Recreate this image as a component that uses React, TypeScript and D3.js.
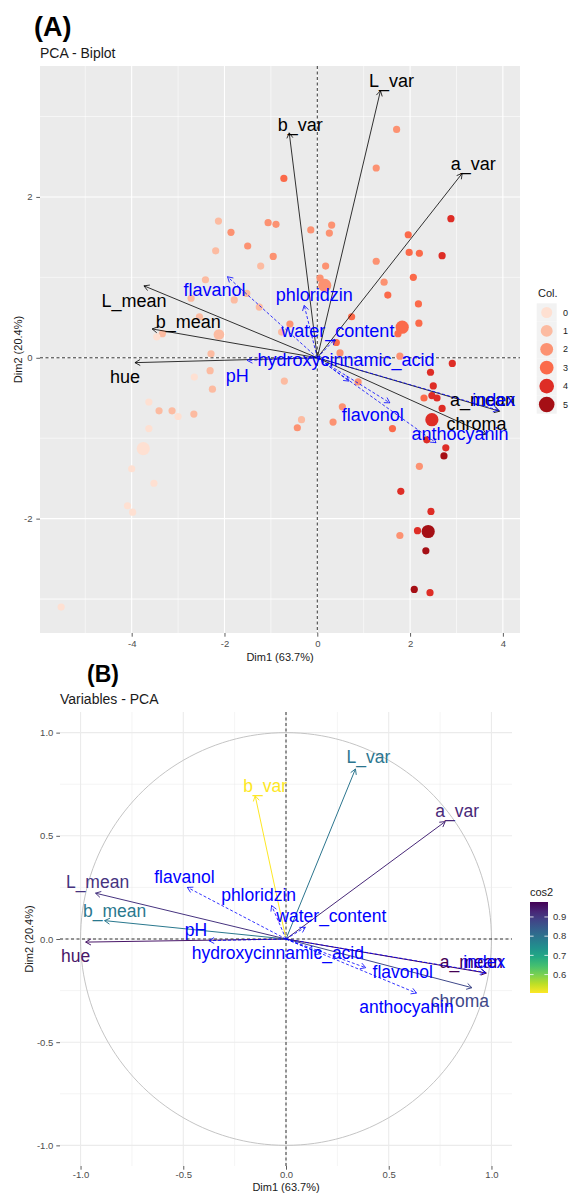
import { useEffect, useRef } from 'react'
import * as d3 from 'd3'

const FONT = '"Liberation Sans", Arial, Helvetica, sans-serif'

// active colour variables, coordinates on the correlation circle
const activeVars = ['L_var', 'b_var', 'a_var', 'L_mean', 'b_mean', 'hue', 'a_mean', 'chroma']
const activeDim1 = [0.338, -0.15, 0.775, -0.927, -0.883, -0.975, 0.975, 0.905]
const activeDim2 = [0.824, 0.694, 0.569, 0.222, 0.089, -0.015, -0.165, -0.236]

// supplementary variables
const suppVars = ['flavanol', 'phloridzin', 'water_content', 'hydroxycinnamic_acid', 'pH', 'flavonol', 'anthocyanin', 'index']
const suppDim1 = [-0.48, -0.07, 0.094, 0.17, -0.375, 0.388, 0.635, 0.97]
const suppDim2 = [0.25, 0.162, 0.057, -0.072, -0.008, -0.139, -0.262, -0.162]

// individuals (scores), their colour class and how many samples sit on the point
const indDim1 = [
	-0.72, -2.13, -1.06, -0.89, -1.86, -1.5, -2.19, -0.95, -1.22, -2.41, -2.72, -1.79, -1.52, -1.25, -2.54, -2.12,
	-0.14, 0.31, 0.26, 0.18, 1.27, 1.44, 1.52, 0.06, 0.16, 0.74, -0.59, -0.77, 0.41, 0.49, -2.29, -2.31, -2.65,
	-2.26, -0.71, 0.88, 1.71, 1.27, 2.88, 1.96, 1.98, 2.2, 2.69, 2.07, 2.18, 2.19, 1.83, 1.78, 2.91, 2.44, 2.5,
	2.47, 2.58, 2.3, 2.69, 0.54, -0.34, -0.43, 0.34, 1.62, 2.47, 2.36, 2.77, 2.73, 2.2, 1.8, 2.45, 2.39, 2.16,
	1.78, 2.34, 2.09, 2.43, -3.34, -3.46, -3.63, -3.41, -3.13, -3.0, -2.66, -3.63, -3.75, -4.0, -3.52, -4.09,
	-3.98, -5.52, 1.74,
]
const indDim2 = [
	2.23, 1.7, 1.68, 1.66, 1.56, 1.39, 1.33, 1.26, 1.14, 0.97, 0.74, 0.72, 0.8, 0.63, 0.51, 0.29, 1.59, 1.65,
	1.55, 1.14, 1.2, 0.94, 0.78, 0.99, 0.9, 0.51, 0.42, 0.32, 0.19, 0.06, 0.05, -0.16, -0.24, -0.39, -0.29, -0.3,
	2.84, 2.36, 1.73, 1.53, 1.31, 1.3, 1.27, 1.0, 0.67, 0.43, 0.38, 0.02, -0.07, -0.18, -0.35, -0.47, -0.5, -0.5,
	-0.63, -0.61, -0.77, -0.87, -0.8, -0.88, -0.77, -1.02, -1.12, -1.22, -1.35, -1.66, -1.91, -2.16, -2.15,
	-2.21, -2.4, -2.88, -2.92, 0.3, 0.26, -0.55, -0.66, -0.66, -0.73, -0.7, -0.88, -1.13, -1.38, -1.56, -1.84,
	-1.92, -3.1, 0.3,
]
const indCol = [
	3, 1, 2, 2, 2, 2, 1, 2, 1, 1, 1, 1, 1, 1, 1, 1, 2, 2, 2, 2, 2, 2, 3, 2, 2, 3, 2, 1, 3, 2, 1, 1, 0, 1, 1, 2,
	2, 2, 4, 3, 3, 3, 4, 3, 3, 3, 3, 2, 4, 4, 4, 4, 4, 3, 4, 2, 1, 2, 2, 3, 4, 4, 4, 5, 2, 4, 4, 5, 4, 2, 5, 5,
	4, 1, 0, 0, 1, 1, 0, 1, 0, 0, 0, 0, 0, 0, 0, 3,
]
const indCount = [
	1, 1, 1, 1, 1, 1, 1, 1, 1, 1, 1, 1, 1, 1, 1, 2, 1, 1, 1, 1, 1, 1, 1, 1, 3, 1, 1, 1, 1, 1, 1, 1, 1, 1, 1, 1,
	1, 1, 1, 1, 1, 1, 1, 1, 1, 1, 3, 1, 1, 1, 1, 1, 1, 1, 1, 1, 1, 1, 1, 1, 3, 1, 1, 1, 1, 1, 1, 3, 1, 1, 1, 1,
	1, 1, 1, 1, 1, 1, 1, 1, 1, 3, 1, 1, 1, 1, 1, 1,
]

const colClasses = [0, 1, 2, 3, 4, 5]
const colPalette = ['#FEE0D2', '#FCBBA1', '#FC9272', '#FB6A4A', '#DE2D26', '#A50F15']

const xTicksA = [-4, -2, 0, 2, 4]
const yTicksA = [-2, 0, 2]
const ticksB = [-1, -0.5, 0, 0.5, 1]
const cos2Ticks = [0.6, 0.7, 0.8, 0.9]

// how far the variable arrows are stretched in the biplot
const biplotScale = 4.03

// label nudges (px) from the arrow tip, as placed by the repel in the original
const nudgeA: Record<string, [number, number]> = {
	L_var: [11, -10], b_var: [11, -8], a_var: [11, -10], L_mean: [-10, 15], b_mean: [36, -7],
	hue: [-10, 14], a_mean: [-17, -12], chroma: [-10, -11], flavanol: [-13, 13], phloridzin: [10, -11],
	water_content: [3, -9], hydroxycinnamic_acid: [-3, -21], pH: [-10, 15], flavonol: [-17, 12],
	anthocyanin: [24, -9], index: [-5, -11],
}
const nudgeB: Record<string, [number, number]> = {
	L_var: [13, -12], b_var: [10, -10], a_var: [12, -11], L_mean: [2, -11], b_mean: [10, -10],
	hue: [-10, 14], a_mean: [-15, -11], chroma: [-12, 13], flavanol: [-3, -11], phloridzin: [-13, -11],
	water_content: [26, -11], hydroxycinnamic_acid: [-43, -1], pH: [-13, -11], flavonol: [37, 4],
	anthocyanin: [-10, 14], index: [-1, -11],
}

const drawArrow = (g: any, x1: number, y1: number, x2: number, y2: number, color: string, width: number, dash?: string) => {
	g.append('line')
		.attr('x1', x1).attr('y1', y1).attr('x2', x2).attr('y2', y2)
		.attr('stroke', color)
		.attr('stroke-width', width)
		.attr('stroke-dasharray', dash || null)
	const ang = Math.atan2(y2 - y1, x2 - x1)
	const len = 6
	const a = Math.PI / 6
	g.append('path')
		.attr('d', `M${x2 - len * Math.cos(ang - a)},${y2 - len * Math.sin(ang - a)}L${x2},${y2}L${x2 - len * Math.cos(ang + a)},${y2 - len * Math.sin(ang + a)}`)
		.attr('fill', 'none')
		.attr('stroke', color)
		.attr('stroke-width', width)
}

const minorBreaks = (major: number[], lo: number, hi: number) => {
	const step = major[1] - major[0]
	const out = major.map((t) => t - step / 2).concat([major[major.length - 1] + step / 2])
	return out.filter((t) => t >= lo && t <= hi)
}

const styleAxis = (g: any) => {
	g.select('.domain').remove()
	g.selectAll('line').attr('stroke', '#333').attr('stroke-width', 0.8)
	g.selectAll('text').attr('fill', '#4d4d4d').style('font-size', '9.5px').style('font-family', FONT)
}

const addText = (g: any, x: number, y: number, txt: string, size: number, color: string, anchor = 'middle', weight = 'normal') =>
	g.append('text')
		.attr('x', x).attr('y', y).attr('dy', '0.35em')
		.attr('text-anchor', anchor)
		.style('font-family', FONT)
		.style('font-size', size + 'px')
		.style('font-weight', weight)
		.attr('fill', color)
		.text(txt)

const drawBiplot = (svg: any) => {
	const m = { left: 40, right: 520, top: 66, bottom: 633 }
	const x = d3.scaleLinear().domain([-5.976, 4.369]).range([m.left, m.right])
	const y = d3.scaleLinear().domain([-3.422, 3.628]).range([m.bottom, m.top])
	const g = svg.append('g')

	addText(g, 34, 27, '(A)', 27, '#000', 'start', 'bold')
	addText(g, 40, 53, 'PCA - Biplot', 14, '#1a1a1a', 'start')

	g.append('rect')
		.attr('x', m.left).attr('y', m.top)
		.attr('width', m.right - m.left).attr('height', m.bottom - m.top)
		.attr('fill', '#EBEBEB')

	const [x0, x1] = x.domain()
	const [y0, y1] = y.domain()
	minorBreaks(xTicksA, x0, x1).forEach((t) => {
		g.append('line').attr('x1', x(t)).attr('x2', x(t)).attr('y1', m.top).attr('y2', m.bottom).attr('stroke', '#fff').attr('stroke-width', 0.55)
	})
	minorBreaks(yTicksA, y0, y1).concat([-3]).forEach((t) => {
		g.append('line').attr('y1', y(t)).attr('y2', y(t)).attr('x1', m.left).attr('x2', m.right).attr('stroke', '#fff').attr('stroke-width', 0.55)
	})
	xTicksA.forEach((t) => {
		g.append('line').attr('x1', x(t)).attr('x2', x(t)).attr('y1', m.top).attr('y2', m.bottom).attr('stroke', '#fff').attr('stroke-width', 1.1)
	})
	yTicksA.forEach((t) => {
		g.append('line').attr('y1', y(t)).attr('y2', y(t)).attr('x1', m.left).attr('x2', m.right).attr('stroke', '#fff').attr('stroke-width', 1.1)
	})

	// origin lines
	g.append('line').attr('x1', m.left).attr('x2', m.right).attr('y1', y(0)).attr('y2', y(0))
		.attr('stroke', '#000').attr('stroke-width', 0.8).attr('stroke-dasharray', '3,2.5')
	g.append('line').attr('x1', x(0)).attr('x2', x(0)).attr('y1', m.top).attr('y2', m.bottom)
		.attr('stroke', '#000').attr('stroke-width', 0.8).attr('stroke-dasharray', '3,2.5')

	// individuals
	const r = d3.scaleSqrt().domain([1, 3]).range([3.6, 6.6])
	const color = d3.scaleOrdinal<number, string>().domain(colClasses).range(colPalette)
	g.append('g')
		.selectAll('circle')
		.data(d3.range(indDim1.length))
		.enter()
		.append('circle')
		.attr('cx', (i: number) => x(indDim1[i]))
		.attr('cy', (i: number) => y(indDim2[i]))
		.attr('r', (i: number) => r(indCount[i]))
		.attr('fill', (i: number) => color(indCol[i]))

	// active variables
	activeVars.forEach((v, i) => {
		const tx = x(activeDim1[i] * biplotScale)
		const ty = y(activeDim2[i] * biplotScale)
		drawArrow(g, x(0), y(0), tx, ty, '#000', 0.8)
	})
	activeVars.forEach((v, i) => {
		const tx = x(activeDim1[i] * biplotScale)
		const ty = y(activeDim2[i] * biplotScale)
		addText(g, tx + nudgeA[v][0], ty + nudgeA[v][1], v, 18, '#000')
	})
	// supplementary variables
	suppVars.forEach((v, i) => {
		const tx = x(suppDim1[i] * biplotScale)
		const ty = y(suppDim2[i] * biplotScale)
		drawArrow(g, x(0), y(0), tx, ty, '#0000FF', 0.8, '3,2')
	})
	suppVars.forEach((v, i) => {
		const tx = x(suppDim1[i] * biplotScale)
		const ty = y(suppDim2[i] * biplotScale)
		addText(g, tx + nudgeA[v][0], ty + nudgeA[v][1], v, 18, '#0000FF')
	})

	// axes
	const ax = g.append('g').attr('transform', `translate(0,${m.bottom})`)
		.call(d3.axisBottom(x).tickValues(xTicksA).tickSize(3.7).tickPadding(3.5).tickFormat((d: any) => String(d)))
	styleAxis(ax)
	const ay = g.append('g').attr('transform', `translate(${m.left},0)`)
		.call(d3.axisLeft(y).tickValues(yTicksA).tickSize(3.7).tickPadding(3.8).tickFormat((d: any) => String(d)))
	styleAxis(ay)

	addText(g, (m.left + m.right) / 2, 657, 'Dim1 (63.7%)', 11, '#1a1a1a')
	addText(g, 0, 0, 'Dim2 (20.4%)', 11, '#1a1a1a')
		.attr('transform', `translate(18,${(m.top + m.bottom) / 2}) rotate(-90)`)

	// legend
	const lg = g.append('g')
	addText(lg, 538, 293, 'Col.', 11, '#1a1a1a', 'start')
	const keyR = d3.scaleLinear().domain([0, 5]).range([5.5, 7.8])
	colClasses.forEach((c, i) => {
		const cy = 312.5 + i * 18.4
		lg.append('rect').attr('x', 536.7).attr('y', cy - 9.2).attr('width', 20).attr('height', 18.4).attr('fill', '#F2F2F2')
		lg.append('circle').attr('cx', 546.7).attr('cy', cy).attr('r', keyR(c)).attr('fill', color(c))
		addText(lg, 563, cy, String(c), 9, '#1a1a1a', 'start')
	})
}

const drawVarPlot = (svg: any) => {
	const m = { left: 60, right: 512, top: 712, bottom: 1166 }
	const x = d3.scaleLinear().domain([-1.1, 1.1]).range([m.left, m.right])
	const y = d3.scaleLinear().domain([-1.1, 1.1]).range([m.bottom, m.top])
	const g = svg.append('g')

	addText(g, 87, 674, '(B)', 23, '#000', 'start', 'bold')
	addText(g, 60, 699, 'Variables - PCA', 14, '#1a1a1a', 'start')

	const minor = minorBreaks(ticksB, -1.1, 1.1)
	minor.forEach((t) => {
		g.append('line').attr('x1', x(t)).attr('x2', x(t)).attr('y1', m.top).attr('y2', m.bottom).attr('stroke', '#EBEBEB').attr('stroke-width', 0.55)
		g.append('line').attr('y1', y(t)).attr('y2', y(t)).attr('x1', m.left).attr('x2', m.right).attr('stroke', '#EBEBEB').attr('stroke-width', 0.55)
	})
	ticksB.forEach((t) => {
		g.append('line').attr('x1', x(t)).attr('x2', x(t)).attr('y1', m.top).attr('y2', m.bottom).attr('stroke', '#EBEBEB').attr('stroke-width', 1.1)
		g.append('line').attr('y1', y(t)).attr('y2', y(t)).attr('x1', m.left).attr('x2', m.right).attr('stroke', '#EBEBEB').attr('stroke-width', 1.1)
	})

	// unit circle
	const circle = d3.range(0, 361, 2).map((deg) => [Math.cos((deg * Math.PI) / 180), Math.sin((deg * Math.PI) / 180)])
	g.append('path')
		.attr('d', d3.line().x((d: any) => x(d[0])).y((d: any) => y(d[1]))(circle as any))
		.attr('fill', 'none').attr('stroke', '#BDBDBD').attr('stroke-width', 0.9)

	g.append('line').attr('x1', m.left).attr('x2', m.right).attr('y1', y(0)).attr('y2', y(0))
		.attr('stroke', '#000').attr('stroke-width', 0.8).attr('stroke-dasharray', '3,2.5')
	g.append('line').attr('x1', x(0)).attr('x2', x(0)).attr('y1', m.top).attr('y2', m.bottom)
		.attr('stroke', '#000').attr('stroke-width', 0.8).attr('stroke-dasharray', '3,2.5')

	const cos2 = activeVars.map((v, i) => activeDim1[i] ** 2 + activeDim2[i] ** 2)
	const cosExt = d3.extent(cos2) as [number, number]
	const cosColor = d3.scaleSequential((t: number) => d3.interpolateViridis(1 - t)).domain(cosExt)

	activeVars.forEach((v, i) => {
		drawArrow(g, x(0), y(0), x(activeDim1[i]), y(activeDim2[i]), cosColor(cos2[i]), 1)
	})
	activeVars.forEach((v, i) => {
		addText(g, x(activeDim1[i]) + nudgeB[v][0], y(activeDim2[i]) + nudgeB[v][1], v, 17.5, cosColor(cos2[i]))
	})
	suppVars.forEach((v, i) => {
		drawArrow(g, x(0), y(0), x(suppDim1[i]), y(suppDim2[i]), '#0000FF', 0.8, '3,2')
	})
	suppVars.forEach((v, i) => {
		addText(g, x(suppDim1[i]) + nudgeB[v][0], y(suppDim2[i]) + nudgeB[v][1], v, 17.5, '#0000FF')
	})

	const fmt = (d: any) => (+d).toFixed(1)
	const ax = g.append('g').attr('transform', `translate(0,${m.bottom})`)
		.call(d3.axisBottom(x).tickValues(ticksB).tickSize(3.7).tickPadding(2).tickFormat(fmt))
	styleAxis(ax)
	const ay = g.append('g').attr('transform', `translate(${m.left},0)`)
		.call(d3.axisLeft(y).tickValues(ticksB).tickSize(3.7).tickPadding(3).tickFormat(fmt))
	styleAxis(ay)

	addText(g, (m.left + m.right) / 2, 1187, 'Dim1 (63.7%)', 11, '#1a1a1a')
	addText(g, 0, 0, 'Dim2 (20.4%)', 11, '#1a1a1a')
		.attr('transform', `translate(29,${(m.top + m.bottom) / 2}) rotate(-90)`)

	// colour bar legend
	const lg = g.append('g')
	addText(lg, 530, 892, 'cos2', 11, '#1a1a1a', 'start')
	const barTop = 902
	const barBottom = 993
	const grad = svg.append('defs').append('linearGradient')
		.attr('id', 'cos2grad').attr('x1', 0).attr('x2', 0).attr('y1', 1).attr('y2', 0)
	d3.range(0, 1.0001, 0.1).forEach((t) => {
		grad.append('stop').attr('offset', t).attr('stop-color', cosColor(cosExt[0] + t * (cosExt[1] - cosExt[0])))
	})
	lg.append('rect').attr('x', 530).attr('y', barTop).attr('width', 18).attr('height', barBottom - barTop).attr('fill', 'url(#cos2grad)')
	const barY = d3.scaleLinear().domain(cosExt).range([barBottom, barTop])
	cos2Ticks.forEach((t) => {
		lg.append('line').attr('x1', 530).attr('x2', 533.6).attr('y1', barY(t)).attr('y2', barY(t)).attr('stroke', '#fff').attr('stroke-width', 0.8)
		lg.append('line').attr('x1', 544.4).attr('x2', 548).attr('y1', barY(t)).attr('y2', barY(t)).attr('stroke', '#fff').attr('stroke-width', 0.8)
		addText(lg, 553, barY(t), t.toFixed(1), 9.5, '#333', 'start')
	})
}

export default function App() {
	const ref = useRef<SVGSVGElement>(null)

	useEffect(() => {
		const svg = d3.select(ref.current)
		svg.selectAll('*').remove()
		drawBiplot(svg)
		drawVarPlot(svg)
	}, [])

	return (
		<div style={{ position: 'absolute', left: 0, top: 0 }}>
			<svg ref={ref} width={572} height={1194} style={{ display: 'block', background: '#fff' }} />
		</div>
	)
}
